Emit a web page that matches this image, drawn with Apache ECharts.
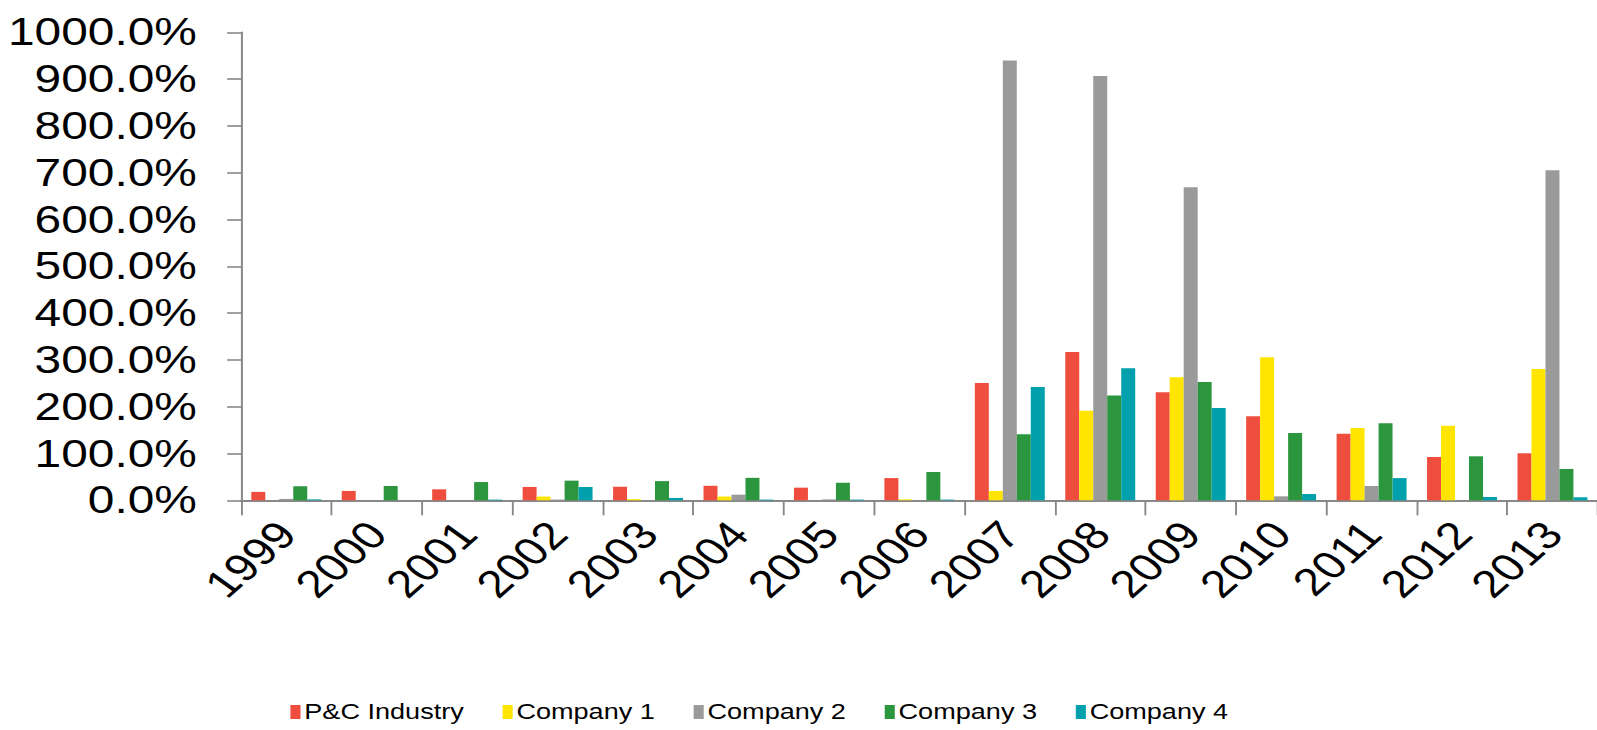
<!DOCTYPE html>
<html>
<head>
<meta charset="utf-8">
<script src="https://cdn.jsdelivr.net/npm/echarts@6/dist/echarts.min.js"></script>
<style>
  html, body { margin: 0; padding: 0; background: #ffffff; overflow: hidden; }
  /* The chart is laid out in a narrower frame and widened horizontally. */
  #chart { width: 1267.5px; height: 730px; transform: scaleX(1.26); transform-origin: 0 0; }
</style>
</head>
<body>
<div id="chart"></div>
<script>
// Years on the category axis
const years = ['1999', '2000', '2001', '2002', '2003', '2004', '2005', '2006',
               '2007', '2008', '2009', '2010', '2011', '2012', '2013'];

// Values in percent
const pcIndustry = [18, 20, 23.5, 28.5, 29, 31, 27, 47.5, 250.5, 317, 231, 179.5, 142, 92.5, 100.5];
const company1   = [0, 0, 0, 8, 2.5, 8, 0, 2, 20, 191.5, 263, 305.5, 154.5, 159.5, 280.5];
const company2   = [3, 0, 0, 1.5, 0, 12, 2, 0, 940, 906.5, 669, 8.5, 30.5, 0, 705.5];
const company3   = [30, 30.5, 39, 42, 41, 48, 37.5, 60.5, 141, 224, 253, 144, 164.5, 94, 67];
const company4   = [2, 0, 1.5, 28.5, 5, 1.5, 1.5, 1.5, 242, 282, 197, 13.5, 47.5, 7, 6.5];

const seriesNames = ['P&C Industry', 'Company 1', 'Company 2', 'Company 3', 'Company 4'];
const seriesData = [pcIndustry, company1, company2, company3, company4];
const seriesColors = ['#EF4E3E', '#FFE500', '#9A9A9A', '#2C963E', '#00A1AC'];

const axisGray = '#888888';
const fontFamily = '"Liberation Sans", Arial, sans-serif';

const chart = echarts.init(document.getElementById('chart'), null, { renderer: 'svg' });

chart.setOption({
  animation: false,
  backgroundColor: '#ffffff',
  color: seriesColors,
  grid: { left: 191.3, top: 32.3, width: 1080.2, height: 468, containLabel: false },
  legend: {
    data: seriesNames,
    left: 225.5,
    top: 696,
    itemWidth: 8,
    itemHeight: 14,
    itemGap: 30.7,
    icon: 'rect',
    textStyle: { fontFamily: fontFamily, fontSize: 21.5, color: '#000000', padding: [0, 0, 0, -2] }
  },
  xAxis: {
    type: 'category',
    data: years,
    boundaryGap: true,
    axisLine: { lineStyle: { color: axisGray, width: 2 } },
    axisTick: { show: true, length: 15, alignWithLabel: false, lineStyle: { color: axisGray, width: 1.5 } },
    axisLabel: {
      interval: 0,
      rotate: 48,
      margin: 27,
      fontFamily: fontFamily,
      fontSize: 38.5,
      color: '#000000'
    },
    splitLine: { show: false }
  },
  yAxis: {
    type: 'value',
    min: 0,
    max: 1000,
    interval: 100,
    axisLine: { show: true, lineStyle: { color: axisGray, width: 1.6 } },
    axisTick: { show: true, length: 11, lineStyle: { color: axisGray, width: 1.6 } },
    axisLabel: {
      margin: 35,
      fontFamily: fontFamily,
      fontSize: 38,
      color: '#000000',
      formatter: v => v.toFixed(1) + '%'
    },
    splitLine: { show: false }
  },
  series: seriesNames.map((name, i) => ({
    name: name,
    type: 'bar',
    data: seriesData[i],
    barWidth: 11.1,
    barGap: '0%',
    itemStyle: { color: seriesColors[i] }
  }))
});
</script>
</body>
</html>
